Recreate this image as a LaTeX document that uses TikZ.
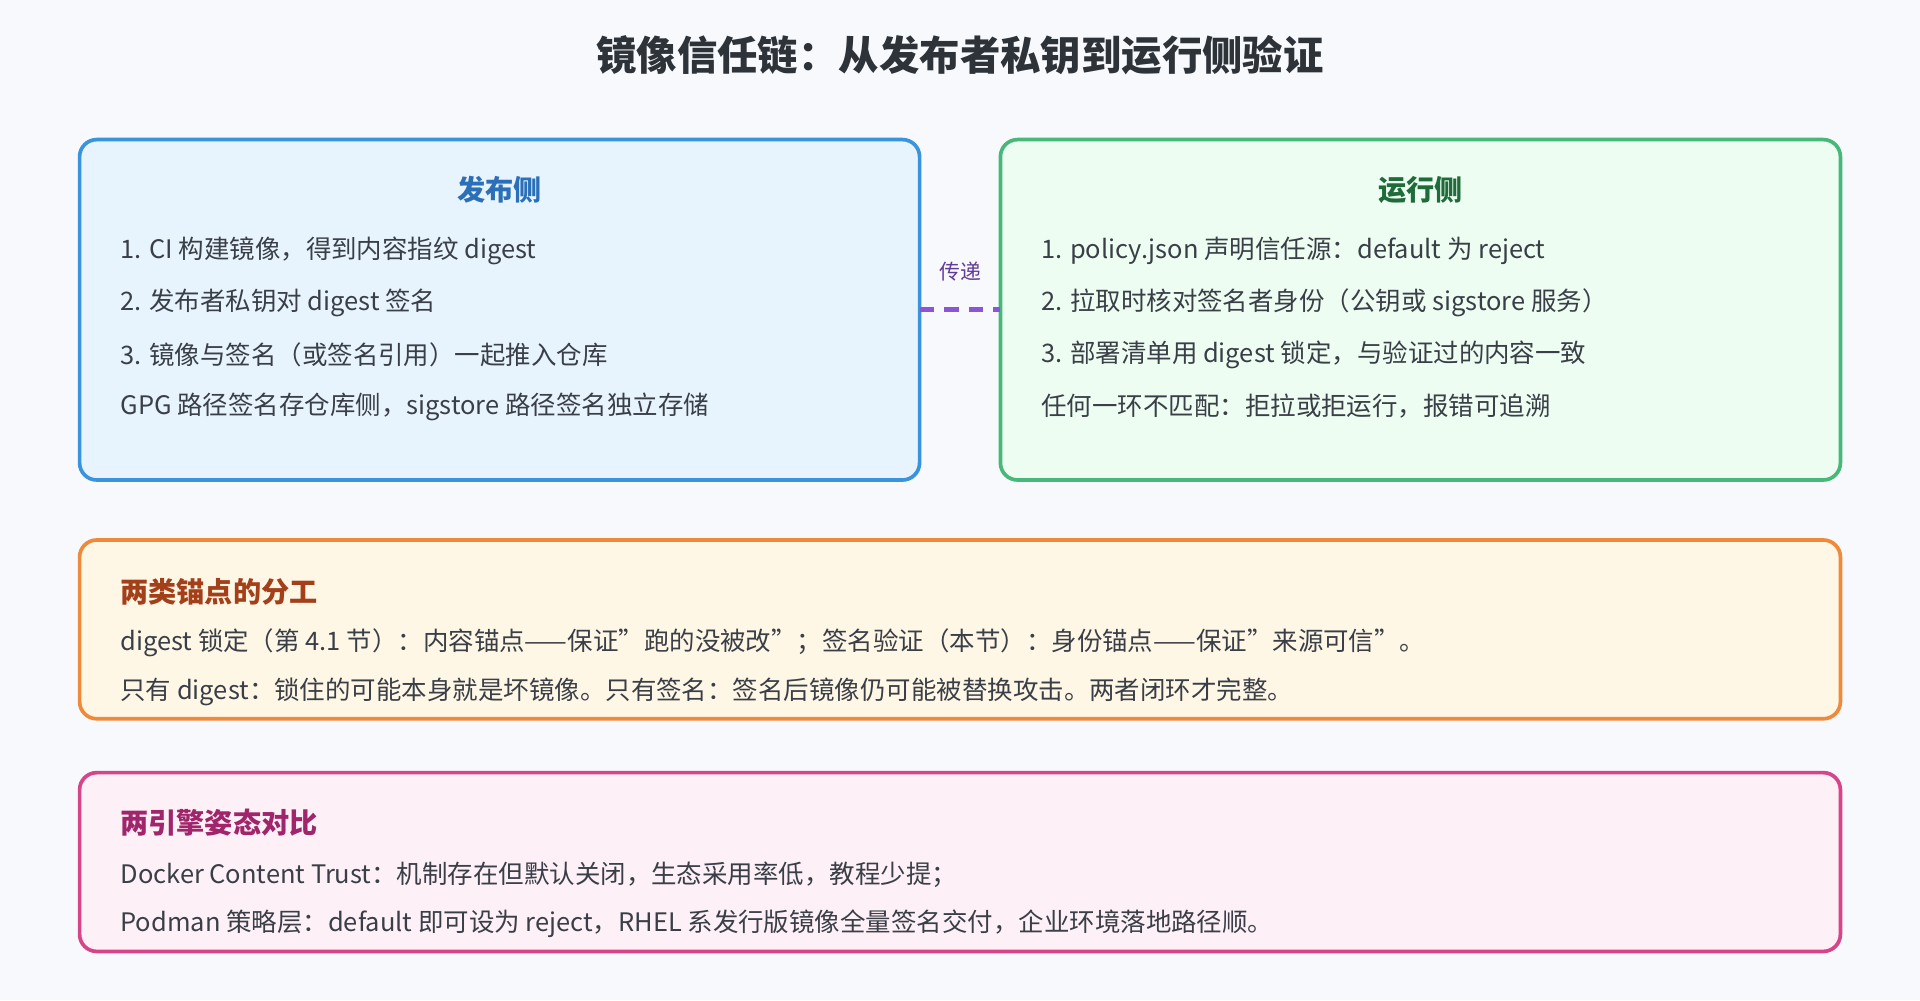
\documentclass[tikz,border=0pt]{standalone}
\usepackage{fontspec}
\setmainfont[Ligatures=NoCommon]{Noto Sans CJK SC}
\definecolor{bgcol}{HTML}{F7F9FC}
\definecolor{pubfill}{HTML}{E8F4FD}
\definecolor{publine}{HTML}{3A93DD}
\definecolor{pubtext}{HTML}{2A6FB8}
\definecolor{runfill}{HTML}{EDFDF2}
\definecolor{runline}{HTML}{48B87A}
\definecolor{runtext}{HTML}{1F6B3A}
\definecolor{anchfill}{HTML}{FFF7E6}
\definecolor{anchline}{HTML}{EE8A3A}
\definecolor{anchtext}{HTML}{A3401A}
\definecolor{engfill}{HTML}{FDF0F6}
\definecolor{engline}{HTML}{D6458A}
\definecolor{engtext}{HTML}{A0256A}
\definecolor{linkcol}{HTML}{8A55D6}
\definecolor{bodytext}{HTML}{3A3F47}
\newcommand{\sq}{{\char"22}}
\begin{document}
\begin{tikzpicture}[
			x=0.5pt, y=-0.5pt,
			panel/.style={draw, line width=1.5pt, rounded corners=7pt},
			head/.style={font=\fontsize{11.5}{13}\selectfont\bfseries, inner sep=0pt},
			line/.style={anchor=west, text=bodytext, font=\fontsize{10.4}{12}\selectfont, inner sep=0pt},
			link/.style={draw=linkcol, line width=2pt, dash pattern=on 6pt off 4pt}
		]
		\fill[bgcol] (0,0) rectangle (1568,817);
		\useasboundingbox (0,0) rectangle (1568,817);
		\node[font=\fontsize{16.5}{19}\selectfont\bfseries, text=bodytext!80!black] (title) at (784,45) {镜像信任链：从发布者私钥到运行侧验证};
		% two sides
		\draw[panel, draw=publine, fill=pubfill] (65,114) rectangle (751,392);
		\draw[panel, draw=runline, fill=runfill] (817,114) rectangle (1503,392);
		\coordinate (pubR) at (751,253);
		\coordinate (runL) at (817,253);
		\node[head, text=pubtext] (pubhead) at (408,155) {发布侧};
		\node[line] (pub1) at (98,205) {1. CI 构建镜像，得到内容指纹 digest};
		\node[line] (pub2) at (98,247) {2. 发布者私钥对 digest 签名};
		\node[line] (pub3) at (98,290) {3. 镜像与签名（或签名引用）一起推入仓库};
		\node[line] (pub4) at (98,332) {GPG 路径签名存仓库侧，sigstore 路径签名独立存储};
		\node[head, text=runtext] (runhead) at (1160,155) {运行侧};
		\node[line] (run1) at (850,205) {1. policy.json 声明信任源：default 为 reject};
		\node[line] (run2) at (850,247) {2. 拉取时核对签名者身份（公钥或 sigstore 服务）};
		\node[line] (run3) at (850,290) {3. 部署清单用 digest 锁定，与验证过的内容一致};
		\node[line] (run4) at (850,332) {任何一环不匹配：拒拉或拒运行，报错可追溯};
		\draw[link] (pubR) -- (runL);
		\node[text=linkcol!70!black, font=\fontsize{8.5}{10}\selectfont] (linklabel) at (784,222) {传递};
		% anchors
		\draw[panel, draw=anchline, fill=anchfill] (65,441) rectangle (1503,587);
		\node[head, anchor=west, text=anchtext] (anchhead) at (98,483) {两类锚点的分工};
		\node[line] (anch1) at (98,525) {digest 锁定（第 4.1 节）：内容锚点——保证\sq 跑的没被改\sq；签名验证（本节）：身份锚点——保证\sq 来源可信\sq。};
		\node[line] (anch2) at (98,565) {只有 digest：锁住的可能本身就是坏镜像。只有签名：签名后镜像仍可能被替换攻击。两者闭环才完整。};
		% engines
		\draw[panel, draw=engline, fill=engfill] (65,631) rectangle (1503,777);
		\node[head, anchor=west, text=engtext] (enghead) at (98,672) {两引擎姿态对比};
		\node[line] (eng1) at (98,714) {Docker Content Trust：机制存在但默认关闭，生态采用率低，教程少提；};
		\node[line] (eng2) at (98,754) {Podman 策略层：default 即可设为 reject，RHEL 系发行版镜像全量签名交付，企业环境落地路径顺。};
	\end{tikzpicture}
\end{document}
